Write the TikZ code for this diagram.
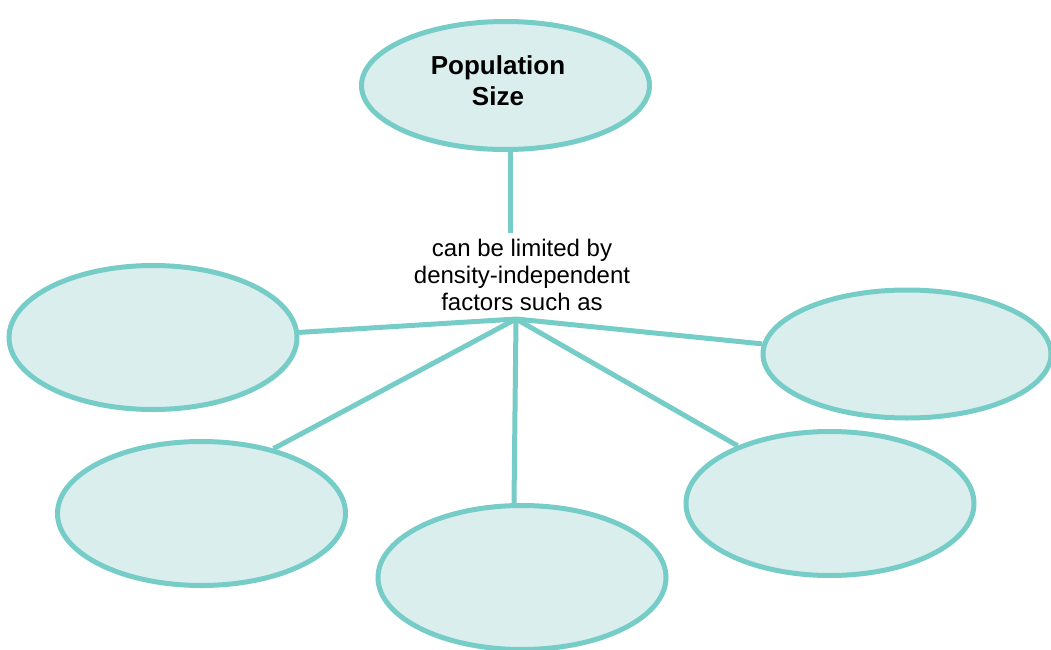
\documentclass[tikz,border=0pt]{standalone}
\usepackage{fontspec}
\setmainfont{Liberation Sans}
\usetikzlibrary{shapes.geometric}
\definecolor{rim}{HTML}{76CDC7}
\definecolor{fillc}{HTML}{DAEEED}
\tikzset{
  bubble/.style={ellipse, draw=rim, fill=fillc, line width=3.75pt, inner sep=0pt,
    minimum width=216pt, minimum height=108pt},
  flat/.style={minimum height=96pt},
  link/.style={draw=rim, line width=3.75pt},
  label/.style={align=center, inner sep=0pt, font=\fontsize{18}{20.25}\selectfont},
  title/.style={align=center, inner sep=0pt, font=\fontsize{19.5}{23.25}\selectfont\bfseries}
}
\begin{document}
\begin{tikzpicture}[x=0.75pt, y=-0.75pt]
\useasboundingbox (0,0) rectangle (1051,650);
\node[bubble, flat] (top) at (505.5,85.5) {};
\node[title] (toptext) at (498,81) {Population\\Size};
\node[bubble] (L) at (153,337.5) {};
\node[bubble, flat] (R) at (907,354) {};
\node[bubble] (BL) at (201.5,513.5) {};
\node[bubble] (BC) at (522,577.5) {};
\node[bubble] (BR) at (830,503.5) {};
\node[label] (mid) at (522,275) {can be limited by\\density-independent\\factors such as};
\coordinate (t1) at (510,233);
\coordinate (hub) at (516,319);
\coordinate (bcend) at (514,503);
\path[link] (t1) -- (t1 |- top.south);
\path[link] (hub) -- (L.2);
\path[link] (hub) -- (R.176);
\path[link] (hub) -- (BL.42);
\path[link] (hub) -- (bcend);
\path[link] (hub) -- (BR.148);
\end{tikzpicture}
\end{document}
